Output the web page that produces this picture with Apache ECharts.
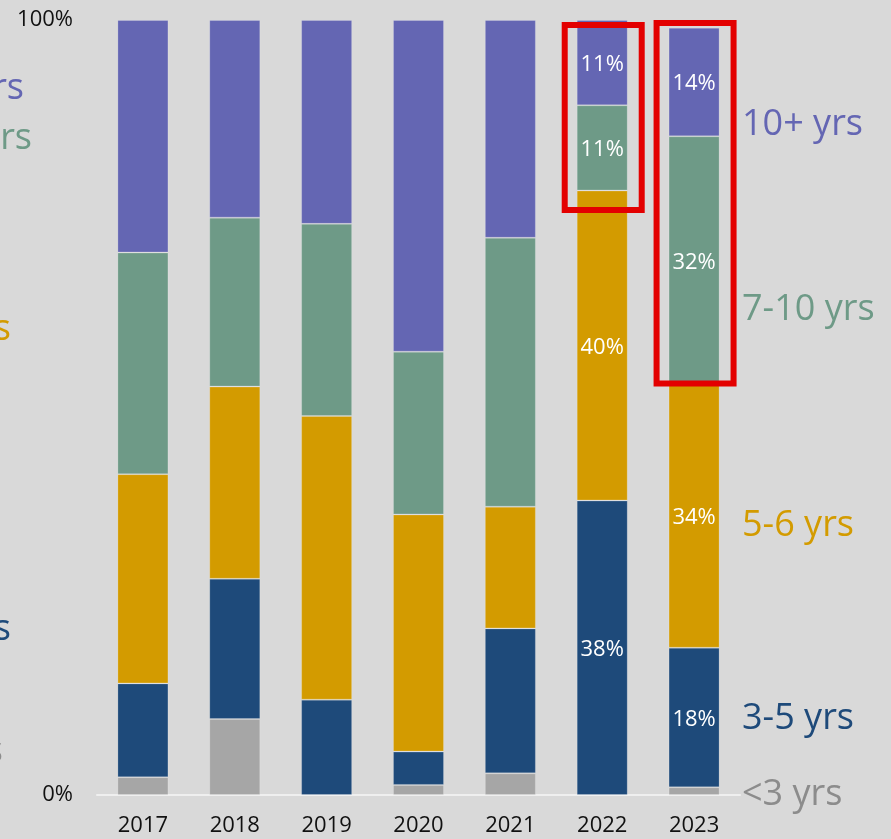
<!DOCTYPE html>
<html>
<head>
<meta charset="utf-8">
<script src="https://cdn.jsdelivr.net/npm/echarts@6/dist/echarts.min.js"></script>
<style>
  html, body { margin: 0; padding: 0; background: #d9d9d9; }
  #chart { width: 891px; height: 839px; }
</style>
</head>
<body>
<div id="chart"></div>
<script>
// Share of units by age band, per year (percent of total)
const years = ['2017', '2018', '2019', '2020', '2021', '2022', '2023'];
const under3 = [2.3, 9.8, 0, 1.3, 2.8, 0, 1];
const yrs3to5 = [12.1, 18.1, 12.3, 4.3, 18.7, 38, 18];
const yrs5to6 = [27.0, 24.8, 36.6, 30.6, 15.7, 40, 34];
const yrs7to10 = [28.6, 21.8, 24.8, 21.0, 34.7, 11, 32];
const yrs10plus = [30.0, 25.5, 26.3, 42.8, 28.1, 11, 14];

// Years whose segments carry value labels
const labelledYears = ['2022', '2023'];

// Highlight boxes: year, top value, bottom value
const boxYears = ['2022', '2023'];
const boxTop = [99.35, 99.6];
const boxBottom = [75.5, 53.1];

const bands = [
  { name: '<3 yrs', data: under3, color: '#a6a6a6', text: '#8c8c8c', labels: false },
  { name: '3-5 yrs', data: yrs3to5, color: '#1e4a7a', text: '#1e4a7a', labels: true },
  { name: '5-6 yrs', data: yrs5to6, color: '#d39b00', text: '#d39b00', labels: true },
  { name: '7-10 yrs', data: yrs7to10, color: '#6e9a87', text: '#6e9a87', labels: true },
  { name: '10+ yrs', data: yrs10plus, color: '#6466b3', text: '#6466b3', labels: true }
];

const FONT = '"Open Sans", "Noto Sans", sans-serif';

const chart = echarts.init(document.getElementById('chart'), null, { renderer: 'canvas' });

const series = bands.map(b => ({
  name: b.name,
  type: 'bar',
  stack: 'total',
  barWidth: 51,
  data: b.data,
  itemStyle: { color: b.color, borderColor: 'rgba(255,255,255,0.18)', borderWidth: 1 },
  label: {
    show: b.labels,
    position: 'inside',
    offset: [0, 2],
    color: '#ffffff',
    fontSize: 22,
    fontFamily: FONT,
    formatter: p => labelledYears.includes(p.name) ? Math.round(p.value) + '%' : ''
  },
  emphasis: { disabled: true },
  animation: false
}));

// Band names at the right of the last bar, and the clipped copies at the left edge
const rightNames = [
  { name: '10+ yrs', y: 125 },
  { name: '7-10 yrs', y: 310 },
  { name: '5-6 yrs', y: 526 },
  { name: '3-5 yrs', y: 719 },
  { name: '<3 yrs', y: 795 }
];
const leftNames = [
  { name: '10+ yrs', x: 24, y: 89 },
  { name: '7-10 yrs', x: 32, y: 139 },
  { name: '5-6 yrs', x: 11, y: 330 },
  { name: '3-5 yrs', x: 11, y: 630 },
  { name: '<3 yrs', x: 3, y: 752 }
];
const colorOf = name => bands.find(b => b.name === name).text;

const nameGraphics = [];
rightNames.forEach(n => nameGraphics.push({
  type: 'text', x: 742, y: n.y, z: 10,
  style: { text: n.name, fill: colorOf(n.name), font: '36px ' + FONT, textAlign: 'left', textVerticalAlign: 'middle' }
}));
leftNames.forEach(n => nameGraphics.push({
  type: 'text', x: n.x, y: n.y, z: 10,
  style: { text: n.name, fill: colorOf(n.name), font: '36px ' + FONT, textAlign: 'right', textVerticalAlign: 'middle' }
}));

chart.setOption({
  backgroundColor: '#d9d9d9',
  animation: false,
  grid: { left: 97, right: 151, top: 20, bottom: 44, containLabel: false },
  xAxis: {
    type: 'category',
    data: years,
    axisLine: { show: true, lineStyle: { color: '#efefef', width: 2 } },
    axisTick: { show: false },
    axisLabel: { color: '#111', fontSize: 22, fontFamily: FONT, margin: 20 }
  },
  yAxis: {
    type: 'value',
    min: 0,
    max: 100,
    interval: 100,
    splitLine: { show: false },
    axisLine: { show: false },
    axisTick: { show: false },
    axisLabel: { color: '#111', fontSize: 22, fontFamily: FONT, margin: 24, formatter: '{value}%' }
  },
  series: series,
  graphic: nameGraphics
});

// Red outline boxes around the highlighted segments
const boxes = boxYears.map((yr, i) => {
  const topLeft = chart.convertToPixel({ gridIndex: 0 }, [yr, boxTop[i]]);
  const bottom = chart.convertToPixel({ gridIndex: 0 }, [yr, boxBottom[i]]);
  const cx = topLeft[0] + 1;
  return {
    type: 'rect', z: 20,
    shape: { x: cx - 38.5, y: topLeft[1], width: 77, height: bottom[1] - topLeft[1] },
    style: { fill: 'none', stroke: '#e30000', lineWidth: 6 }
  };
});
chart.setOption({ graphic: nameGraphics.concat(boxes) });
</script>
</body>
</html>
